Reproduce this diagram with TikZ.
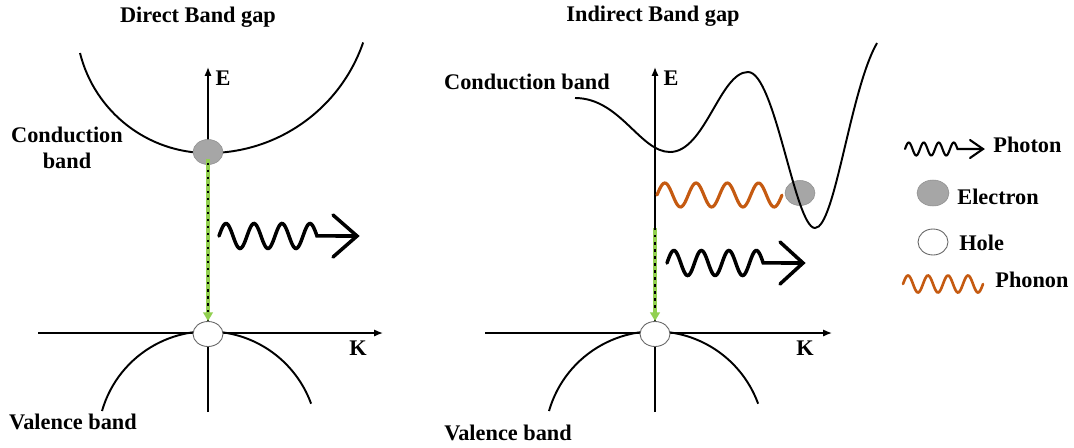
\documentclass[tikz,border=0pt]{standalone}
\usepackage{fontspec}
\setmainfont{Liberation Serif}
\usepackage{tikz}
\usetikzlibrary{arrows.meta,positioning,shapes.geometric}
\definecolor{elecgray}{RGB}{166,166,166}
\definecolor{phononorange}{RGB}{197,90,17}
\definecolor{dropgreen}{RGB}{146,208,80}

\begin{document}
\begin{tikzpicture}[
    x=0.02cm, y=-0.02cm,
    lbl/.style={font=\fontsize{12.7}{15}\selectfont\bfseries, inner sep=0pt, align=center},
    axis/.style={line width=0.8pt, -{Latex[length=5pt,width=4pt]}},
    band/.style={line width=1.1pt},
    electron/.style={ellipse, fill=elecgray, draw=elecgray!85!black, line width=0.3pt, minimum width=0.6cm, minimum height=0.5cm, inner sep=0pt},
    hole/.style={ellipse, fill=white, draw=black!60, line width=0.5pt, minimum width=0.6cm, minimum height=0.5cm, inner sep=0pt},
    photon/.style={line width=2pt, line cap=round},
    phonon/.style={line width=1.8pt, color=phononorange, line cap=round},
    greenline/.style={line width=2.2pt, dropgreen, -{Triangle[width=5.5pt,length=5pt]}},
    blackdash/.style={line width=1pt, dash pattern=on 1.4pt off 2.6pt, shorten >=5pt}
]
\useasboundingbox (0,0) rectangle (1074,447);

% ---- direct band gap
\node[lbl] (titleL) at (198,17) {Direct Band gap};
\coordinate (eL0) at (208,412);
\coordinate (eL1) at (208,67);
\coordinate (kL0) at (38,333);
\coordinate (kL1) at (383,333);
\draw[axis] (eL0) -- (eL1);
\draw[axis] (kL0) -- (kL1);
\node[lbl] (eLblL) at (223,78) {E};
\node[lbl] (kLblL) at (358,348) {K};

\draw[band] (80,53) arc[start angle=166, end angle=90, radius=132]
                    arc[start angle=90, end angle=19, radius=164];
\draw[band] (102,411) arc[start angle=-164, end angle=-20, radius=110];

\node[electron] (elecL) at (208,152) {};
\node[hole] (holeL) at (208,334) {};
\draw[greenline] ([yshift=-4pt]elecL.center) -- (holeL.north);
\draw[blackdash] ([yshift=-6pt]elecL.center) -- (holeL.north);

\coordinate (tipL) at (357,236);
\draw[photon] plot[domain=0:3.5, samples=90] ({219+28*\x}, {236-12.5*sin(360*\x)}) -- (tipL);
\draw[photon] (tipL) ++(-24,-21) -- (tipL) -- ++(-24,21);

\node[lbl] (condL) at (67,148) {Conduction\\band};
\node[lbl] (valL) at (73,422) {Valence band};

% ---- indirect band gap
\node[lbl] (titleR) at (653,16) {Indirect Band gap};
\coordinate (eR0) at (655,412);
\coordinate (eR1) at (655,67);
\coordinate (kR0) at (485,333);
\coordinate (kR1) at (832,333);
\draw[axis] (eR0) -- (eR1);
\draw[axis] (kR0) -- (kR1);
\node[lbl] (eLblR) at (671,78) {E};
\node[lbl] (kLblR) at (805,348) {K};

\node[electron] (elecR) at (800,193) {};
\draw[band] (575,98) .. controls (620,98) and (640,152) .. (670,152)
                     .. controls (705,152) and (720,72) .. (748,72)
                     .. controls (775,72) and (795,228) .. (815,228)
                     .. controls (835,228) and (850,90) .. (877,43);
\draw[band] (549,411) arc[start angle=-164, end angle=-20, radius=110];

\node[hole] (holeR) at (655,334) {};
\coordinate (dropR) at (655,228);
\draw[greenline] (dropR) -- (holeR.north);
\draw[blackdash] (dropR) -- (holeR.north);

\draw[phonon] plot[domain=0:4, samples=100] ({657+31.25*\x}, {195-12*sin(360*\x)});

\coordinate (tipR) at (803,263);
\draw[photon] plot[domain=0:3.5, samples=90] ({667+27.5*\x}, {263-12.5*sin(360*\x)}) -- (tipR);
\draw[photon] (tipR) ++(-23,-21) -- (tipR) -- ++(-23,21);

\node[lbl] (condR) at (527,82) {Conduction band};
\node[lbl] (valR) at (508,433) {Valence band};

% ---- legend
\coordinate (tipK) at (983,149);
\draw[photon, line width=1.2pt] plot[domain=0:3.5, samples=70] ({905+15*\x}, {149-6.5*sin(360*\x)}) -- (tipK);
\draw[photon, line width=1.2pt] (tipK) ++(-13,-9) -- (tipK) -- ++(-13,9);
\node[lbl, anchor=west] (photonK) at (993,145) {Photon};

\node[electron, minimum width=0.64cm, minimum height=0.52cm] (elecK) at (933,193) {};
\node[lbl, anchor=west] (elecLbl) at (957,197) {Electron};

\node[hole, minimum height=0.52cm] (holeK) at (933,242) {};
\node[lbl, anchor=west] (holeLbl) at (959,243) {Hole};

\draw[phonon, line width=1.5pt] plot[domain=0:4, samples=80] ({903+20*\x}, {284-8.5*sin(360*\x)});
\node[lbl, anchor=west] (phononK) at (995,280) {Phonon};
\end{tikzpicture}
\end{document}
